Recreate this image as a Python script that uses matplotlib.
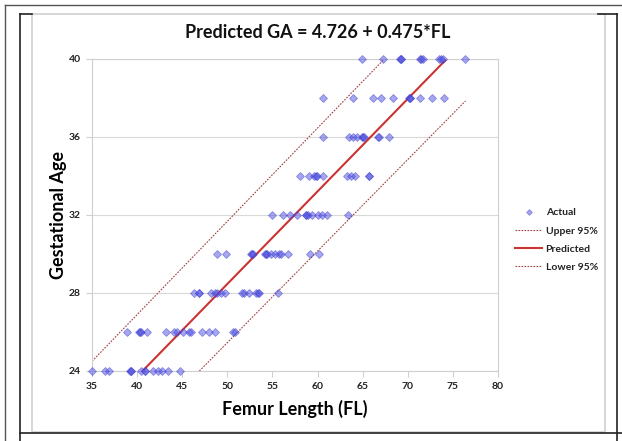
import matplotlib.pyplot as plt
from matplotlib.lines import Line2D
from matplotlib.patches import Rectangle

plt.rcParams["font.family"] = ["Lato", "DejaVu Sans"]

# femur length readings per gestational-age row
fl_24 = [35.0, 36.4, 36.9, 39.2, 39.3, 39.3, 40.4, 40.9, 40.9, 41.8, 42.3, 42.8, 43.4, 44.8]
fl_26 = [38.9, 40.2, 40.3, 40.4, 41.1, 43.2, 44.1, 44.4, 45.1, 45.8, 46.0, 47.2, 48.0, 48.6, 50.6, 50.9]
fl_28 = [46.3, 46.9, 46.9, 48.2, 48.6, 48.9, 49.3, 49.7, 51.6, 51.9, 52.4, 53.2, 53.4, 53.5, 55.6]
fl_30 = [48.9, 49.8, 52.6, 52.7, 52.9, 54.2, 54.3, 54.4, 54.8, 55.3, 55.7, 56.0, 56.7, 59.2, 60.2]
fl_32 = [55.0, 56.2, 57.0, 57.7, 58.7, 58.7, 58.9, 59.4, 60.0, 60.5, 61.1, 63.4]
fl_34 = [58.1, 59.1, 59.6, 59.8, 59.9, 60.6, 63.3, 63.7, 64.2, 65.7, 65.7]
fl_36 = [60.6, 63.5, 63.9, 64.4, 64.9, 65.0, 65.1, 66.7, 66.8, 67.9]
fl_38 = [60.6, 63.9, 66.2, 67.0, 68.4, 70.1, 70.2, 70.3, 71.3, 72.7, 74.0]
fl_40 = [64.9, 67.3, 69.1, 69.2, 69.3, 71.3, 71.5, 71.7, 73.5, 73.7, 73.9, 76.3]

ga_rows = [24, 26, 28, 30, 32, 34, 36, 38, 40]
fl_rows = [fl_24, fl_26, fl_28, fl_30, fl_32, fl_34, fl_36, fl_38, fl_40]

# regression line and 95% bounds (end points)
pred_fl = [40.6, 74.3]
pred_ga = [24.0, 40.0]
upper_fl = [35.0, 67.4]
upper_ga = [24.5, 40.0]
lower_fl = [46.9, 76.4]
lower_ga = [24.0, 37.85]

x_ticks = [35, 40, 45, 50, 55, 60, 65, 70, 75, 80]
y_ticks = [24, 28, 32, 36, 40]


def main():
    W, H = 622, 441
    fig = plt.figure(figsize=(W / 100, H / 100), dpi=100)

    def fx(p):
        return p / W

    def fy(p):
        return 1 - p / H

    # page / table borders
    for (x0, y0, x1, y1, c, lw) in [
        (5, 5, 622, 5, "#555555", 1.0),
        (5, 5, 5, 441, "#555555", 1.0),
        (20, 14, 20, 441, "#222222", 1.2),
        (617, 14, 617, 441, "#222222", 1.2),
        (20, 433, 622, 433, "#222222", 1.2),
        (20, 14, 32, 14, "#222222", 1.2),
        (598, 14, 617, 14, "#222222", 1.2),
    ]:
        fig.add_artist(Line2D([fx(x0), fx(x1)], [fy(y0), fy(y1)], color=c, lw=lw))
    fig.add_artist(Rectangle((fx(32), fy(432)), fx(605) - fx(32), fy(14) - fy(432),
                             fill=False, ec="#d0d0d0", lw=1.2))

    ax = fig.add_axes([fx(92), fy(371), fx(498) - fx(92), fy(59) - fy(371)])

    xs, ys = [], []
    for ga, row in zip(ga_rows, fl_rows):
        xs += row
        ys += [ga] * len(row)
    ax.plot(xs, ys, "D", ms=3.9, color="#5050e0", mec="#3a3ad0", mew=0.6,
            alpha=0.5, ls="none", label="Actual", zorder=3, clip_on=False)
    ax.plot(upper_fl, upper_ga, color="#a04040", lw=0.8, ls=(0, (1.5, 1.2)),
            label="Upper 95%", zorder=2)
    ax.plot(pred_fl, pred_ga, color="#cc3333", lw=1.5, label="Predicted", zorder=2)
    ax.plot(lower_fl, lower_ga, color="#a04040", lw=0.8, ls=(0, (1.5, 1.2)),
            label="Lower 95%", zorder=2)

    ax.set_xlim(35, 80)
    ax.set_ylim(24, 40)
    ax.set_xticks(x_ticks)
    ax.set_yticks(y_ticks)
    ax.grid(axis="y", color="#d9d9d9", lw=0.8)
    ax.set_axisbelow(True)
    for s in ax.spines.values():
        s.set_color("#cfcfcf")
        s.set_linewidth(0.8)
    ax.tick_params(axis="both", length=4, width=0.8, color="#cfcfcf",
                   labelsize=7.5, pad=4)
    for lab in ax.get_xticklabels() + ax.get_yticklabels():
        lab.set_fontweight("bold")
        lab.set_color("#222222")

    ax.set_xlabel("Femur Length (FL)", fontsize=13, fontweight="bold", labelpad=6)
    ax.set_ylabel("Gestational Age", fontsize=13, fontweight="bold", labelpad=1)
    fig.text(fx(318), fy(33), "Predicted GA = 4.726 + 0.475*FL", fontsize=13,
             fontweight="bold", ha="center", va="center", color="#111111")

    leg = ax.legend(loc="center left", bbox_to_anchor=(fx(506), fy(240)),
                    bbox_transform=fig.transFigure, frameon=False,
                    prop={"size": 7.5, "weight": "bold"}, handlelength=2.6,
                    handletextpad=0.3, labelspacing=0.85, markerscale=0.75)
    for t in leg.get_texts():
        t.set_color("#222222")

    plt.savefig("out.png", dpi=100)
    plt.close(fig)


if __name__ == "__main__":
    main()
